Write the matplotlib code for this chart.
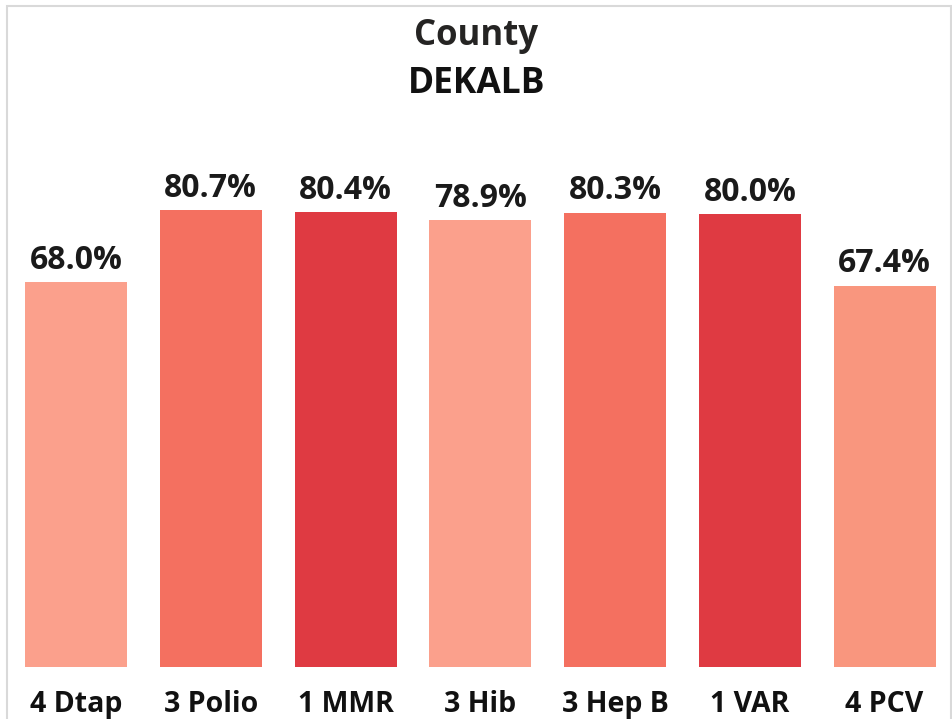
import matplotlib.pyplot as plt
from matplotlib.patches import Rectangle

# vaccination coverage by antigen
vaccines = ["4 Dtap", "3 Polio", "1 MMR", "3 Hib", "3 Hep B", "1 VAR", "4 PCV"]
coverage = [68.0, 80.7, 80.4, 78.9, 80.3, 80.0, 67.4]
bar_colors = ["#FBA08C", "#F47060", "#DF3A42", "#FBA08C", "#F47060", "#DF3A42", "#F9967E"]

plt.rcParams["font.family"] = ["Open Sans", "DejaVu Sans"]

W, H = 953, 719
fig = plt.figure(figsize=(W / 100, H / 100), dpi=100)

# light grey frame around the visual
fig.patches.append(Rectangle((7 / W, -0.05), 944 / W, 1.05 - 6 / H,
                             transform=fig.transFigure, fill=False,
                             edgecolor="#D9D9D9", linewidth=1.5))

ax = fig.add_axes([8.6 / W, (H - 667) / H, 943.4 / W, 566 / H])
x = range(len(vaccines))
bars = ax.bar(x, coverage, width=0.757, color=bar_colors)
ax.set_xlim(-0.5, len(vaccines) - 0.5)
ax.set_ylim(0, 100)

# value labels above the bars
for b, v in zip(bars, coverage):
    ax.annotate(f"{v:.1f}%", (b.get_x() + b.get_width() / 2, v),
                xytext=(0, 9.4), textcoords="offset points",
                ha="center", va="baseline", fontsize=23, fontweight="bold",
                color="#1A1A1A")

ax.set_xticks(list(x))
ax.set_xticklabels(vaccines, fontsize=20.5, fontweight="bold", color="#111111",
                   va="baseline")
ax.tick_params(axis="x", length=0, pad=32.4)
ax.set_yticks([])
for s in ax.spines.values():
    s.set_visible(False)

fig.text(0.5, 1 - 45 / H, "County", ha="center", va="baseline",
         fontsize=25, fontweight="bold", color="#252423")
fig.text(0.5, 1 - 93 / H, "DEKALB", ha="center", va="baseline",
         fontsize=25.5, fontweight="bold", color="#111111")

fig.savefig("out.png", dpi=100)
